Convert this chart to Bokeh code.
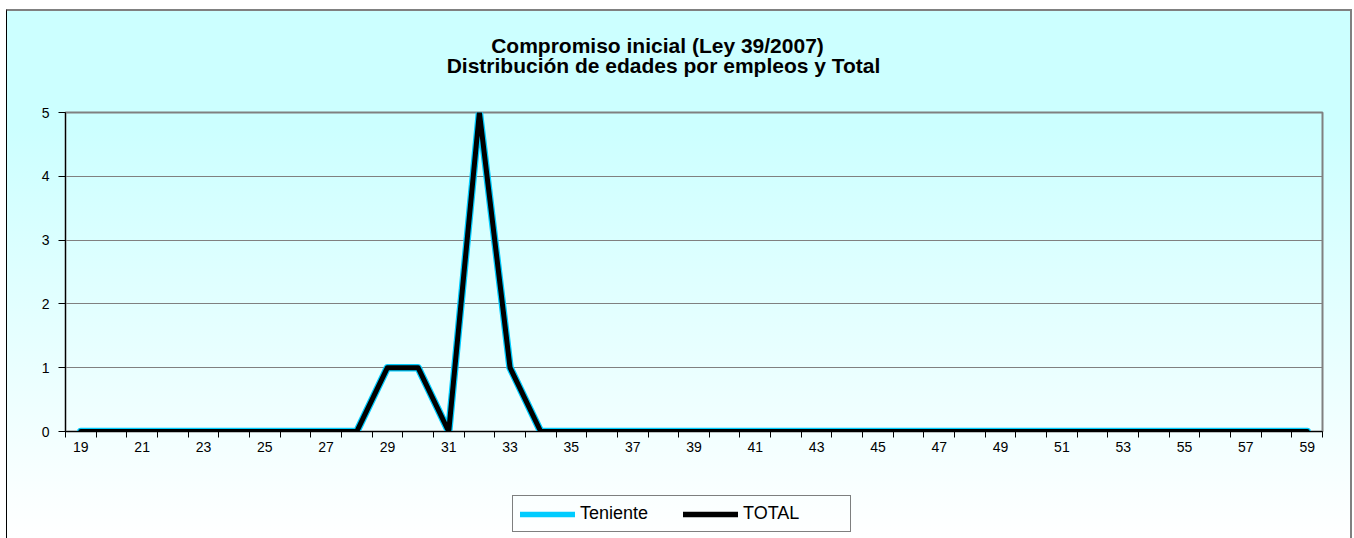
from bokeh.plotting import figure
from bokeh.layouts import column
from bokeh.models import Range1d, FixedTicker, Legend, LegendItem, Label
from bokeh.embed import file_html
from bokeh.resources import INLINE

ages = list(range(19, 60))
teniente = [0]*10 + [1, 1, 0, 5, 1] + [0]*26
total = [0]*10 + [1, 1, 0, 5, 1] + [0]*26
x_tick_labels = list(range(19, 60, 2))
y_ticks = [0, 1, 2, 3, 4, 5]
title_1 = "Compromiso inicial (Ley 39/2007)"
title_2 = "Distribución de edades por empleos y Total"
series_names = ["Teniente", "TOTAL"]
series_colors = ["#00CCFF", "#000000"]
series_widths = [7.5, 5]

W = 1343


def blank_fig(h):
    f = figure(width=W, height=h, output_backend="svg", toolbar_location=None, title=None,
               x_range=Range1d(0, 1), y_range=Range1d(0, 1),
               x_axis_location=None, y_axis_location=None,
               min_border_left=0, min_border_right=0, min_border_top=0, min_border_bottom=0)
    f.border_fill_alpha = 0
    f.background_fill_alpha = 0
    f.outline_line_color = None
    f.xgrid.visible = False
    f.ygrid.visible = False
    return f


# ---- title strip ----
tfig = blank_fig(86)
for txt, xs, ys in [(title_1, 592, 52), (title_2, 598, 32)]:
    tfig.add_layout(Label(x=xs, y=ys, x_units="screen", y_units="screen", text=txt,
                          text_align="center", text_baseline="alphabetic",
                          text_font="Liberation Sans", text_font_size="21px",
                          text_font_style="bold", text_color="#000000"))

# ---- main chart ----
p = figure(width=W, height=376, output_backend="svg", toolbar_location=None, title=None,
           x_range=Range1d(18.5, 59.5), y_range=Range1d(0, 5),
           min_border_left=58, min_border_right=28, min_border_top=15, min_border_bottom=42)
p.border_fill_alpha = 0
p.background_fill_alpha = 0
p.outline_line_color = "#808080"
p.outline_line_width = 2

xa = p.xaxis[0]
xa.ticker = FixedTicker(ticks=x_tick_labels, minor_ticks=[a - 0.5 for a in ages] + [59.5])
xa.major_tick_line_color = None
xa.minor_tick_line_color = "#000000"
xa.minor_tick_in = 0
xa.minor_tick_out = 6
xa.axis_line_color = "#000000"
xa.axis_line_width = 1
xa.major_label_standoff = 4
xa.major_label_text_font = "Liberation Sans"
xa.major_label_text_font_size = "14px"
xa.major_label_text_color = "#000000"

ya = p.yaxis[0]
ya.ticker = FixedTicker(ticks=y_ticks)
ya.minor_tick_line_color = None
ya.major_tick_in = 0
ya.major_tick_out = 7
ya.major_tick_line_color = "#000000"
ya.axis_line_color = "#000000"
ya.major_label_standoff = 9
ya.major_label_text_font = "Liberation Sans"
ya.major_label_text_font_size = "14px"
ya.major_label_text_color = "#000000"

p.xgrid.grid_line_color = None
p.ygrid.ticker = FixedTicker(ticks=y_ticks)
p.ygrid.grid_line_color = "#808080"
p.ygrid.grid_line_width = 1

for vals, col_, lw in zip([teniente, total], series_colors, series_widths):
    p.line(ages, vals, line_color=col_, line_width=lw, line_join="round", line_cap="round")

# ---- legend strip (series drawn again but outside this strip's ranges, only as legend proxies) ----
lfig = blank_fig(65)
items = []
for name, vals, col_ in zip(series_names, [teniente, total], series_colors):
    r = lfig.line(ages, vals, line_color=col_, line_width=5.5, line_cap="round")
    items.append(LegendItem(label=name, renderers=[r]))
legend = Legend(items=items, orientation="horizontal", location=(447, 6),
                glyph_width=55, label_standoff=5, label_width=100, spacing=3,
                padding=7, margin=0,
                border_line_color="#000000", border_line_width=1,
                background_fill_alpha=0,
                label_text_font="Liberation Sans", label_text_font_size="18px",
                label_text_color="#000000")
lfig.add_layout(legend, "center")

layout = column(tfig, p, lfig, spacing=0)
layout.styles = {
    "background": "linear-gradient(to bottom, #CCFFFF 0%, #CCFFFF 22%, #FFFFFF 100%)",
    "border-left": "1px solid #000000",
    "border-top": "2px solid #808080",
    "border-right": "2px solid #808080",
    "margin-left": "6px",
    "margin-top": "9px",
}

open("out.html", "w").write(file_html(layout, INLINE))
